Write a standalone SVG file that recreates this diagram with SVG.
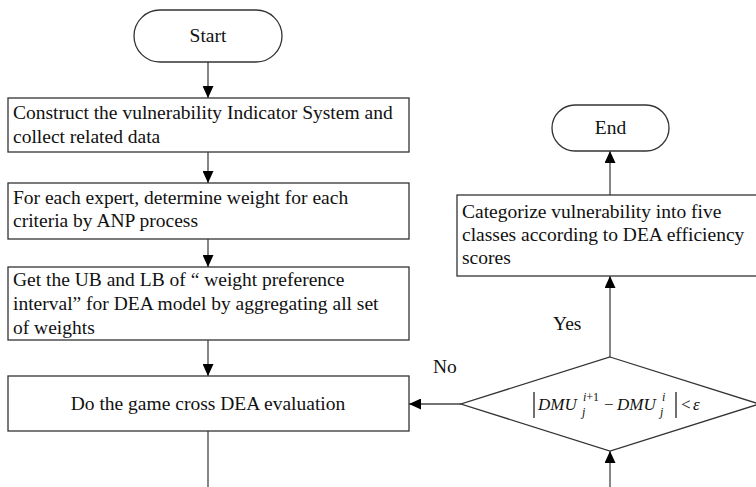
<svg xmlns="http://www.w3.org/2000/svg" width="756" height="487" viewBox="0 0 756 487">
<defs>
<marker id="ah" markerUnits="userSpaceOnUse" markerWidth="12" markerHeight="11" refX="12" refY="5.5" orient="auto">
<path d="M0,0 L12,5.5 L0,11 z" fill="#000"/>
</marker>
<style>
.box{fill:#fff;stroke:#333;stroke-width:1.3}
text{font-family:'Liberation Serif','Times New Roman',serif;fill:#111}
.t{font-size:19.5px}
.m{font-size:17px}
.s{font-size:12px}
.i{font-style:italic}
.bar{stroke:#111;stroke-width:1.2}
.c{stroke:#444;stroke-width:1.3;fill:none}
.ca{stroke:#444;stroke-width:1.3;fill:none;marker-end:url(#ah)}
</style>
</defs>
<rect width="756" height="487" fill="#fff"/>
<g id="connectors">
<line class="ca" x1="208" y1="62" x2="208" y2="98"/>
<line class="ca" x1="208" y1="152" x2="208" y2="183"/>
<line class="ca" x1="208" y1="239" x2="208" y2="267"/>
<line class="ca" x1="208" y1="340" x2="208" y2="376"/>
<line class="c" x1="208" y1="431" x2="208" y2="487"/>
<line class="ca" x1="610" y1="487" x2="610" y2="451"/>
<line class="ca" x1="610" y1="357" x2="610" y2="276"/>
<line class="ca" x1="610" y1="195" x2="610" y2="151"/>
<line class="ca" x1="461" y1="404" x2="409" y2="404"/>
<text class="t" x="553" y="330">Yes</text>
<text class="t" x="433" y="373">No</text>
</g>
<g id="start">
<rect class="box" x="134" y="10" width="148" height="52" rx="26"/>
<text class="t" x="208" y="42" text-anchor="middle">Start</text>
</g>
<g id="box1">
<rect class="box" x="8" y="98" width="401" height="54"/>
<text class="t" x="13" y="119">Construct the vulnerability Indicator System and</text>
<text class="t" x="13" y="143">collect related data</text>
</g>
<g id="box2">
<rect class="box" x="8" y="183" width="401" height="56"/>
<text class="t" x="13" y="204">For each expert, determine weight for each</text>
<text class="t" x="13" y="227">criteria by ANP process</text>
</g>
<g id="box3">
<rect class="box" x="8" y="267" width="401" height="73"/>
<text class="t" x="13" y="286">Get the UB and LB of “ weight preference</text>
<text class="t" x="13" y="310">interval” for DEA model by aggregating all set</text>
<text class="t" x="13" y="334">of weights</text>
</g>
<g id="box4">
<rect class="box" x="8" y="376" width="401" height="55"/>
<text class="t" x="208" y="410" text-anchor="middle">Do the game cross DEA evaluation</text>
</g>
<g id="end">
<rect class="box" x="552" y="105" width="117" height="46" rx="23"/>
<text class="t" x="610.5" y="134" text-anchor="middle">End</text>
</g>
<g id="box5">
<rect class="box" x="457" y="195" width="302" height="81"/>
<text class="t" x="462" y="218">Categorize vulnerability into five</text>
<text class="t" x="462" y="241">classes according to DEA efficiency</text>
<text class="t" x="462" y="264">scores</text>
</g>
<g id="decision">
<polygon class="box" points="610,357 759,404 610,451 461,404"/>
<line class="bar" x1="534" y1="392" x2="534" y2="418"/>
<line class="bar" x1="676" y1="392" x2="676" y2="418"/>
<text class="m i" x="538" y="410">DMU</text>
<text class="s" x="583" y="401"><tspan class="i">i</tspan>+1</text>
<text class="s i" x="582" y="416">j</text>
<text class="m" x="604" y="410">−</text>
<text class="m i" x="617" y="410">DMU</text>
<text class="s i" x="662" y="401">i</text>
<text class="s i" x="660" y="416">j</text>
<text class="m" x="681" y="410">&lt;</text>
<text class="m i" x="693" y="410">ε</text>
</g>
</svg>
